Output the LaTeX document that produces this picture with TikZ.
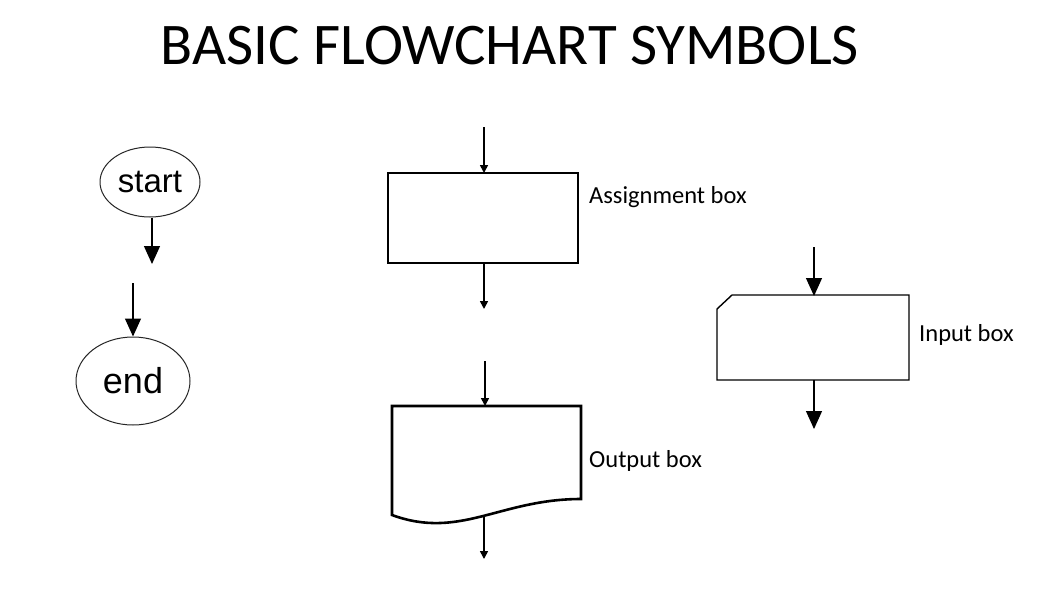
\documentclass[tikz,border=0pt]{standalone}
\usepackage{fontspec}
\setmainfont{Carlito}
\newfontfamily\arialfont{Liberation Sans}
\usetikzlibrary{arrows.meta,shapes.geometric}
\tikzset{
  oval/.style={draw=black!85, line width=1pt, ellipse, inner sep=0pt},
  bigtip/.style={-{Triangle[width=16pt,length=18pt]}, line width=1.3pt},
  smalltip/.style={-{Triangle[width=8pt,length=8pt]}, line width=1.6pt},
  thickbox/.style={draw=black, line width=2.6pt},
  thinbox/.style={draw=black, line width=1.4pt},
  lbl/.style={anchor=west, font=\fontsize{24.5}{28}\selectfont, inner sep=0pt},
}
\begin{document}
\begin{tikzpicture}[x=1pt,y=-1pt]
\useasboundingbox (0,0) rectangle (1059,592);
\fill[white] (0,0) rectangle (1059,592);
% title
\node (title) at (510,46) {\fontsize{59}{68}\selectfont BASIC FLOWCHART SYMBOLS};
% start / end
\node[oval, minimum width=100pt, minimum height=70pt] (start) at (150,182) {\arialfont\fontsize{33}{38}\selectfont start};
\coordinate (s2) at (152,264);
\draw[bigtip] (start.south -| s2) -- (s2);
\node[oval, minimum width=114pt, minimum height=88pt] (end) at (133,381) {\arialfont\fontsize{36}{40}\selectfont end};
\coordinate (e1) at (133,283);
\draw[bigtip] (e1) -- (end.north);
% assignment box
\draw[thickbox] (388,173) rectangle (578,263);
\coordinate (a0) at (484,127);
\coordinate (a1) at (484,173);
\coordinate (a2) at (484,263);
\coordinate (a3) at (484,309);
\draw[smalltip] (a0) -- (a1);
\draw[smalltip] (a2) -- (a3);
\node[lbl] (alab) at (589,197) {Assignment box};
% output box
\draw[thickbox, line join=miter] (392,515) -- (392,406) -- (581,406) -- (581,499)
  .. controls (500,499) and (460,540) .. (392,515) -- cycle;
\coordinate (o0) at (485,361);
\coordinate (o1) at (485,406);
\coordinate (o2) at (484,515);
\coordinate (o3) at (484,559);
\draw[smalltip] (o0) -- (o1);
\draw[smalltip] (o2) -- (o3);
\node[lbl] (olab) at (589,461) {Output box};
% input box
\draw[thinbox] (732,295) -- (909,295) -- (909,380) -- (717,380) -- (717,309) -- cycle;
\coordinate (i0) at (814,247);
\coordinate (i1) at (814,296);
\coordinate (i2) at (814,380);
\coordinate (i3) at (814,429);
\draw[bigtip, line width=1.1pt] (i0) -- (i1);
\draw[bigtip, line width=1.1pt] (i2) -- (i3);
\node[lbl] (ilab) at (919,335) {Input box};
\end{tikzpicture}
\end{document}
